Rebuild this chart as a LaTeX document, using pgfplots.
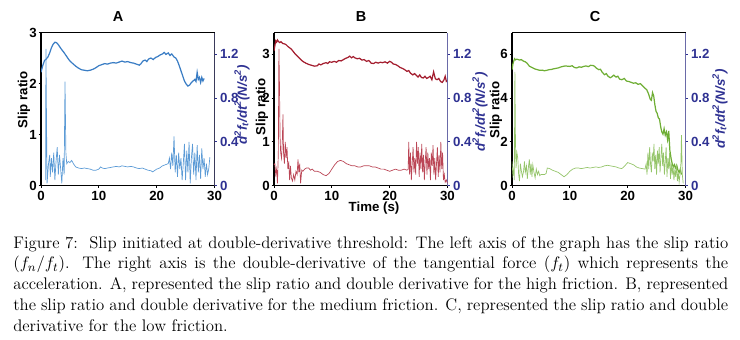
\documentclass[border=0pt]{standalone}
\usepackage{pgfplots}
\pgfplotsset{compat=1.18}
\usepackage{fontspec}
\newfontfamily\arial{Liberation Sans}
\definecolor{navy}{HTML}{2E3192}
\definecolor{raxA}{HTML}{3A3A5A}
\definecolor{rax}{HTML}{6A6AA8}
\definecolor{cAs}{HTML}{3A7DC4}
\definecolor{cAd}{HTML}{5C9BD6}
\definecolor{cBs}{HTML}{A31D2E}
\definecolor{cBd}{HTML}{BB4656}
\definecolor{cCs}{HTML}{6FAE35}
\definecolor{cCd}{HTML}{95C56A}
\newcommand\tfont{\arial\bfseries\fontsize{8.7}{10}\selectfont}
\newcommand\hfont{\arial\bfseries\fontsize{9.5}{11}\selectfont}
\pgfplotsset{
  base/.style={scale only axis, width=113.82pt, height=100.37pt,
    xmin=0, xmax=30, ymin=0, tick align=outside, major tick length=1.6pt,
    tick label style={font=\tfont}, /pgf/number format/assume math mode=true,
    axis line style={line width=0.8pt}, every tick/.style={line width=0.6pt}},
  leftax/.style={base, axis x line*=box, axis y line*=left, xtick={0,10,20,30},
    xtick pos=left, ytick pos=left, xticklabel style={yshift=1.5pt},
    yticklabel style={xshift=2.3pt}},
  rightax/.style={base, axis x line=none, axis y line*=right, ymax=1.4,
    ytick={0,0.4,0.8,1.2}, yticklabel style={color=navy, xshift=-1.5pt},
    ytick style={color=navy}},
  slip/.style={line width=0.8pt},
  dd/.style={line width=0.45pt}
}
\begin{document}
\begin{tikzpicture}
\begin{scope}[x=0.656pt,y=-0.656pt]
\path[use as bounding box] (0,0) rectangle (740,339);
\end{scope}
% ---------------- Panel A ----------------
\begin{axis}[leftax, at={(26.90pt,-121.69pt)}, ymax=3, ytick={0,1,2,3}]
\addplot[slip, cAs] coordinates {
(0,2.22)(0.3,2.35)(0.6,2.45)(0.9,2.48)(1.2,2.52)(1.5,2.6)(1.8,2.7)(2.1,2.77)(2.4,2.81)(2.7,2.8)(3.0,2.76)(3.3,2.71)(3.6,2.66)(3.9,2.62)(4.2,2.57)(4.5,2.52)(4.8,2.47)(5.1,2.43)(5.5,2.39)(6,2.34)(6.5,2.3)(7,2.27)(7.5,2.26)(8,2.25)(8.5,2.26)(9,2.28)(9.5,2.31)(10,2.35)(10.5,2.37)(11,2.39)(11.5,2.38)(12,2.4)(12.5,2.41)(13,2.4)(13.5,2.42)(14,2.44)(14.5,2.42)(15,2.43)(15.5,2.41)(16,2.4)(16.5,2.38)(17,2.36)(17.3,2.39)(17.6,2.44)(18,2.46)(18.3,2.43)(18.6,2.48)(19,2.5)(19.4,2.47)(19.8,2.51)(20.2,2.53)(20.6,2.56)(21,2.58)(21.3,2.61)(21.6,2.57)(22,2.6)(22.3,2.55)(22.6,2.58)(23,2.52)(23.3,2.5)(23.6,2.44)(23.9,2.35)(24.2,2.25)(24.5,2.15)(24.8,2.05)(25.1,1.99)(25.4,1.95)(25.7,1.97)(26,2.02)(26.3,2.05)(26.6,2.08)(26.8,2.04)(27,2.22)(27.2,2.08)(27.4,2.12)(27.6,2.02)(27.8,2.12)(28,2.05)(28.2,2.1)};
\end{axis}
\begin{axis}[rightax, at={(26.90pt,-121.69pt)}, y axis line style={color=raxA}]
\addplot[dd, cAd] coordinates {
(0.8,0.05)(0.85,1.25)(0.95,0.6)(1.05,0.02)(1.3,0.2)(1.5,0.28)(1.6,0.08)(1.8,0.25)(2.0,0.12)(2.2,0.3)(2.4,0.05)(2.6,0.22)(2.8,0.35)(3.0,0.1)(3.2,0.28)(3.4,0.15)(3.6,0.02)(3.8,0.25)(4.0,0.1)(4.15,0.95)(4.3,0.3)(4.45,0.2)(4.7,0.22)(5,0.21)(5.3,0.23)(5.6,0.2)(6,0.17)(6.5,0.16)(7,0.155)(7.5,0.16)(8,0.155)(8.5,0.15)(9,0.14)(9.5,0.14)(10,0.15)(10.3,0.17)(10.6,0.16)(11,0.155)(11.5,0.16)(12,0.165)(12.5,0.17)(13,0.175)(13.5,0.17)(14,0.18)(14.5,0.175)(15,0.17)(15.5,0.175)(16,0.17)(16.5,0.16)(17,0.155)(17.5,0.16)(18,0.15)(18.5,0.14)(19,0.135)(19.3,0.125)(19.6,0.135)(20,0.15)(20.5,0.16)(21,0.18)(21.5,0.19)(22,0.2)(22.2,0.25)(22.4,0.15)(22.6,0.3)(22.8,0.18)(23.0,0.45)(23.2,0.12)(23.4,0.28)(23.6,0.08)(23.8,0.3)(24.0,0.15)(24.2,0.25)(24.4,0.05)(24.6,0.2)(24.8,0.38)(25.0,0.05)(25.2,0.32)(25.4,0.12)(25.6,0.4)(25.8,0.02)(26.0,0.25)(26.2,0.38)(26.4,0.1)(26.6,0.3)(26.8,0.05)(27.0,0.37)(27.2,0.12)(27.4,0.28)(27.6,0.06)(27.8,0.34)(28.0,0.15)(28.2,0.25)(28.4,0.08)(28.6,0.2)(28.8,0.1)(29.0,0.15)(29.2,0.26)};
\end{axis}
% ---------------- Panel B ----------------
\begin{axis}[leftax, at={(179.74pt,-121.69pt)}, ymax=3.5, ytick={0,1,2,3}]
\addplot[slip, cBs] coordinates {
(0,3.08)(0.15,3.2)(0.3,3.31)(0.45,3.28)(0.6,3.33)(0.8,3.29)(1.0,3.27)(1.2,3.29)(1.5,3.25)(1.8,3.24)(2.1,3.22)(2.4,3.18)(2.7,3.15)(3.0,3.12)(3.3,3.07)(3.6,3.02)(3.9,2.98)(4.2,2.94)(4.5,2.9)(4.8,2.86)(5.1,2.83)(5.5,2.8)(6,2.77)(6.5,2.75)(7,2.73)(7.5,2.74)(7.8,2.78)(8.1,2.76)(8.5,2.79)(9,2.81)(9.3,2.79)(9.6,2.83)(10,2.82)(10.4,2.84)(10.8,2.82)(11.2,2.86)(11.6,2.85)(12,2.88)(12.4,2.91)(12.8,2.93)(13.1,2.96)(13.4,2.92)(13.7,2.95)(14,2.92)(14.4,2.9)(14.8,2.91)(15.2,2.87)(15.6,2.88)(16,2.84)(16.4,2.86)(16.8,2.8)(17.2,2.79)(17.6,2.82)(18,2.8)(18.4,2.82)(18.8,2.81)(19.2,2.83)(19.6,2.8)(20,2.84)(20.3,2.82)(20.6,2.78)(21,2.77)(21.4,2.74)(21.8,2.7)(22.2,2.68)(22.6,2.65)(23,2.61)(23.3,2.63)(23.6,2.57)(24,2.53)(24.3,2.56)(24.6,2.52)(24.9,2.48)(25.2,2.53)(25.5,2.47)(25.8,2.46)(26.1,2.5)(26.4,2.45)(26.7,2.47)(27,2.5)(27.3,2.42)(27.6,2.6)(27.9,2.44)(28.2,2.42)(28.5,2.45)(28.8,2.38)(29.1,2.36)(29.4,2.42)(29.6,2.5)(29.8,2.38)(30,2.4)};
\end{axis}
\begin{axis}[rightax, at={(179.74pt,-121.69pt)}, y axis line style={color=rax}]
\addplot[dd, cBd] coordinates {
(0,0.19)(0.15,0.2)(0.3,0.1)(0.45,0.15)(0.6,0.02)(0.75,0.3)(0.85,1.25)(0.95,0.9)(1.05,0.45)(1.15,0.3)(1.3,0.25)(1.45,0.42)(1.55,0.65)(1.65,0.3)(1.8,0.2)(1.95,0.4)(2.1,0.25)(2.25,0.35)(2.4,0.15)(2.55,0.22)(2.7,0.05)(2.85,0.18)(3.0,0.07)(3.2,0.04)(3.4,0.1)(3.6,0.05)(3.8,0.13)(4.0,0.1)(4.15,0.24)(4.3,0.12)(4.45,0.2)(4.6,0.02)(4.8,0.14)(5.0,0.13)(5.3,0.15)(5.6,0.16)(6,0.16)(6.3,0.14)(6.6,0.15)(7,0.13)(7.5,0.13)(8,0.12)(8.5,0.1)(9,0.09)(9.5,0.11)(10,0.15)(10.5,0.19)(11,0.22)(11.5,0.23)(12,0.22)(12.5,0.2)(13,0.19)(13.5,0.18)(14,0.18)(14.5,0.17)(15,0.17)(15.5,0.18)(16,0.18)(16.5,0.18)(17,0.17)(17.5,0.17)(18,0.16)(18.5,0.15)(19,0.15)(19.5,0.14)(20,0.13)(20.5,0.14)(21,0.15)(21.5,0.14)(22,0.14)(22.5,0.15)(23,0.14)(23.2,0.15)(23.3,0.4)(23.45,0.1)(23.6,0.3)(23.75,0.05)(23.9,0.2)(24.05,0.35)(24.2,0.12)(24.35,0.25)(24.5,0.1)(24.65,0.4)(24.8,0.2)(24.95,0.35)(25.1,0.08)(25.25,0.3)(25.4,0.15)(25.55,0.38)(25.7,0.12)(25.85,0.28)(26.0,0.05)(26.15,0.22)(26.3,0.35)(26.45,0.1)(26.6,0.3)(26.75,0.15)(26.9,0.25)(27.05,0.05)(27.2,0.3)(27.35,0.18)(27.5,0.37)(27.65,0.1)(27.8,0.25)(27.95,0.05)(28.1,0.2)(28.25,0.35)(28.4,0.08)(28.55,0.28)(28.7,0.12)(28.85,0.4)(29.0,0.15)(29.15,0.3)(29.3,0.05)(29.45,0.1)(29.6,0.03)(29.8,0.05)(30,0.02)};
\end{axis}
% ---------------- Panel C ----------------
\begin{axis}[leftax, at={(335.87pt,-121.69pt)}, ymax=7, ytick={0,2,4,6}]
\addplot[slip, cCs] coordinates {
(0,5.3)(0.15,5.55)(0.3,5.69)(0.45,5.8)(0.6,5.75)(0.8,5.78)(1.0,5.77)(1.3,5.74)(1.6,5.76)(2,5.69)(2.3,5.66)(2.6,5.6)(3,5.46)(3.3,5.42)(3.6,5.38)(4,5.33)(4.4,5.3)(4.8,5.27)(5.2,5.28)(5.6,5.25)(6,5.27)(6.4,5.3)(6.8,5.31)(7.2,5.34)(7.6,5.36)(8,5.38)(8.4,5.42)(8.8,5.45)(9.2,5.47)(9.6,5.46)(10,5.45)(10.4,5.48)(10.8,5.4)(11.2,5.38)(11.6,5.43)(12,5.41)(12.4,5.45)(12.8,5.47)(13.2,5.44)(13.6,5.5)(14,5.49)(14.3,5.45)(14.6,5.37)(15,5.3)(15.3,5.32)(15.6,5.18)(16,5.07)(16.3,5.12)(16.6,5.0)(17,4.93)(17.3,4.98)(17.6,5.05)(18,4.96)(18.3,5.0)(18.6,4.87)(19,4.84)(19.4,4.9)(19.8,4.78)(20.2,4.76)(20.6,4.72)(21,4.68)(21.4,4.7)(21.8,4.63)(22.2,4.66)(22.6,4.55)(23,4.45)(23.3,4.38)(23.6,4.2)(23.9,3.95)(24.1,3.9)(24.3,4.25)(24.5,4.1)(24.7,3.7)(24.9,3.4)(25.1,3.3)(25.3,3.1)(25.5,3.05)(25.7,2.7)(25.9,2.45)(26.1,2.35)(26.3,2.6)(26.5,2.3)(26.7,2.45)(26.9,2.1)(27.1,2.5)(27.3,1.6)(27.5,1.25)(27.7,1.0)(27.9,0.85)(28.1,0.95)(28.3,0.8)(28.5,0.9)(28.7,0.7)(28.9,0.6)(29.1,0.75)(29.3,0.5)};
\end{axis}
\begin{axis}[rightax, at={(335.87pt,-121.69pt)}, y axis line style={color=rax}]
\addplot[dd, cCd] coordinates {
(0,0.22)(0.15,0.1)(0.3,0.15)(0.4,0.05)(0.5,1.04)(0.6,0.4)(0.7,0.16)(0.85,0.3)(1.0,0.25)(1.15,0.1)(1.3,0.04)(1.45,0.2)(1.6,0.14)(1.8,0.08)(2.0,0.13)(2.15,0.22)(2.3,0.12)(2.5,0.18)(2.65,0.06)(2.8,0.15)(3.0,0.24)(3.15,0.1)(3.3,0.2)(3.45,0.08)(3.6,0.19)(3.8,0.12)(4.0,0.07)(4.2,0.15)(4.4,0.1)(4.6,0.13)(4.8,0.09)(5.0,0.1)(5.3,0.1)(5.6,0.1)(5.9,0.11)(6.1,0.16)(6.5,0.155)(7,0.14)(7.5,0.13)(8,0.12)(8.5,0.1)(9,0.08)(9.5,0.1)(10,0.13)(10.5,0.15)(11,0.16)(11.5,0.16)(12,0.155)(12.5,0.16)(13,0.165)(13.5,0.16)(14,0.165)(14.5,0.17)(15,0.165)(15.5,0.17)(16,0.18)(16.5,0.185)(17,0.18)(17.5,0.175)(18,0.17)(18.5,0.16)(19,0.155)(19.5,0.18)(20,0.21)(20.5,0.2)(21,0.19)(21.5,0.17)(22,0.16)(22.5,0.155)(23,0.15)(23.2,0.2)(23.35,0.1)(23.5,0.3)(23.65,0.15)(23.8,0.35)(23.95,0.2)(24.1,0.12)(24.25,0.3)(24.4,0.22)(24.55,0.38)(24.7,0.15)(24.85,0.28)(25.0,0.1)(25.15,0.32)(25.3,0.2)(25.45,0.35)(25.6,0.12)(25.75,0.26)(25.9,0.38)(26.05,0.18)(26.2,0.3)(26.35,0.1)(26.5,0.22)(26.65,0.35)(26.8,0.08)(26.95,0.25)(27.1,0.15)(27.25,0.3)(27.4,0.06)(27.55,0.2)(27.7,0.1)(27.85,0.18)(28.0,0.05)(28.15,0.14)(28.3,0.08)(28.45,0.2)(28.6,0.04)(28.75,0.12)(28.9,0.03)(29.05,0.1)(29.2,0.2)(29.3,0.46)(29.45,0.1)(29.6,0.02)};
\end{axis}
% ---------------- Labels ----------------
\begin{scope}[x=0.656pt,y=-0.656pt]
\node[font=\hfont] at (118,17) {A};
\node[font=\hfont] at (361,17) {B};
\node[font=\hfont] at (595,17) {C};
\node[font=\tfont, rotate=90] at (24,100) {Slip ratio};
\node[font=\tfont, rotate=90] at (262,107) {Slip ratio};
\node[font=\tfont, rotate=90] at (496,110) {Slip ratio};
\node[font=\tfont\itshape, rotate=90, text=navy] at (242,105) {d\textsuperscript{2}f\textsubscript{t}/dt\textsuperscript{2}(N/s\textsuperscript{2})};
\node[font=\tfont\itshape, rotate=90, text=navy] at (480,112) {d\textsuperscript{2}f\textsubscript{t}/dt\textsuperscript{2}(N/s\textsuperscript{2})};
\node[font=\tfont\itshape, rotate=90, text=navy] at (720,109) {d\textsuperscript{2}f\textsubscript{t}/dt\textsuperscript{2}(N/s\textsuperscript{2})};
\node[font=\tfont] at (374,208) {Time (s)};
\node[anchor=north west, inner sep=0pt, text width=469pt, align=justify,
      font=\fontsize{11}{13.6}\selectfont] at (13,236)
 {Figure 7:\ \ Slip initiated at double-derivative threshold: The left axis of the graph has the slip ratio $(f_n/f_t)$. The right axis is the double-derivative of the tangential force $(f_t)$ which represents the acceleration. A, represented the slip ratio and double derivative for the high friction. B, represented the slip ratio and double derivative for the medium friction. C, represented the slip ratio and double derivative for the low friction.};
\end{scope}
\end{tikzpicture}
\end{document}
